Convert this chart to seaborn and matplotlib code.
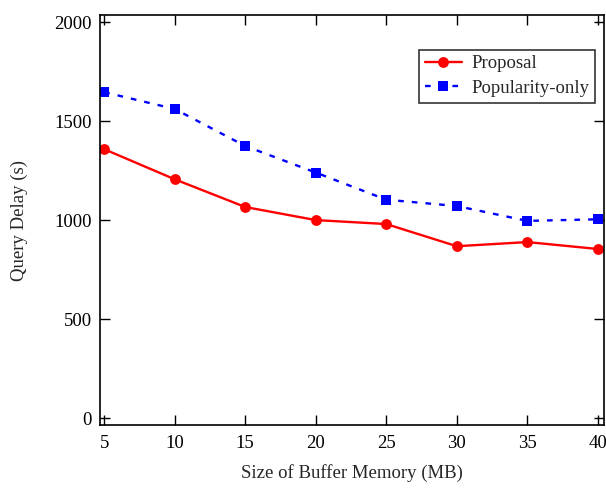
import matplotlib
matplotlib.use('Agg')
import matplotlib.pyplot as plt
import pandas as pd
import seaborn as sns

# Values
buffer_mb = [5, 10, 15, 20, 25, 30, 35, 40]
proposal = [1358, 1206, 1066, 1000, 980, 868, 889, 854]
popularity_only = [1646, 1561, 1374, 1240, 1103, 1071, 996, 1004]

df = pd.DataFrame({
    'Size of Buffer Memory (MB)': buffer_mb * 2,
    'Query Delay (s)': proposal + popularity_only,
    'Method': ['Proposal'] * len(buffer_mb) + ['Popularity-only'] * len(buffer_mb),
})

sns.set_style('ticks')
plt.rcParams['font.family'] = ['Liberation Serif', 'DejaVu Serif']

fig = plt.figure(figsize=(6.06, 4.88), dpi=100)
ax = fig.add_axes([0.165, 0.129, 0.832, 0.84])

sns.lineplot(data=df, x='Size of Buffer Memory (MB)', y='Query Delay (s)',
             hue='Method', style='Method',
             palette={'Proposal': '#ff0000', 'Popularity-only': '#0000ff'},
             markers={'Proposal': 'o', 'Popularity-only': 's'},
             dashes={'Proposal': '', 'Popularity-only': (2.4, 3.4)},
             markersize=7.8, markeredgewidth=0, linewidth=1.7, ax=ax)

ax.set_xlim(4.7, 40.45)
ax.set_ylim(-35, 2035)
ax.set_xticks(buffer_mb)
ax.set_yticks([0, 500, 1000, 1500, 2000])
ax.tick_params(direction='in', top=True, right=True, length=7, width=1,
               labelsize=13.5, colors='black')
ax.tick_params(axis='x', pad=7)
ax.tick_params(axis='y', pad=6)
for s in ax.spines.values():
    s.set_linewidth(1.2)
    s.set_color('black')
ax.set_xlabel('Size of Buffer Memory (MB)', fontsize=13.5, labelpad=9)
ax.set_ylabel('Query Delay (s)', fontsize=13.5, labelpad=19)

leg = ax.legend(loc='upper right', bbox_to_anchor=(0.982, 0.916), fontsize=13.5,
                frameon=True, fancybox=False, edgecolor='black',
                handlelength=2.0, handletextpad=0.5, borderpad=0.3,
                labelspacing=0.4, borderaxespad=0)
leg.get_frame().set_linewidth(1.2)

fig.savefig('out.png', dpi=100)
